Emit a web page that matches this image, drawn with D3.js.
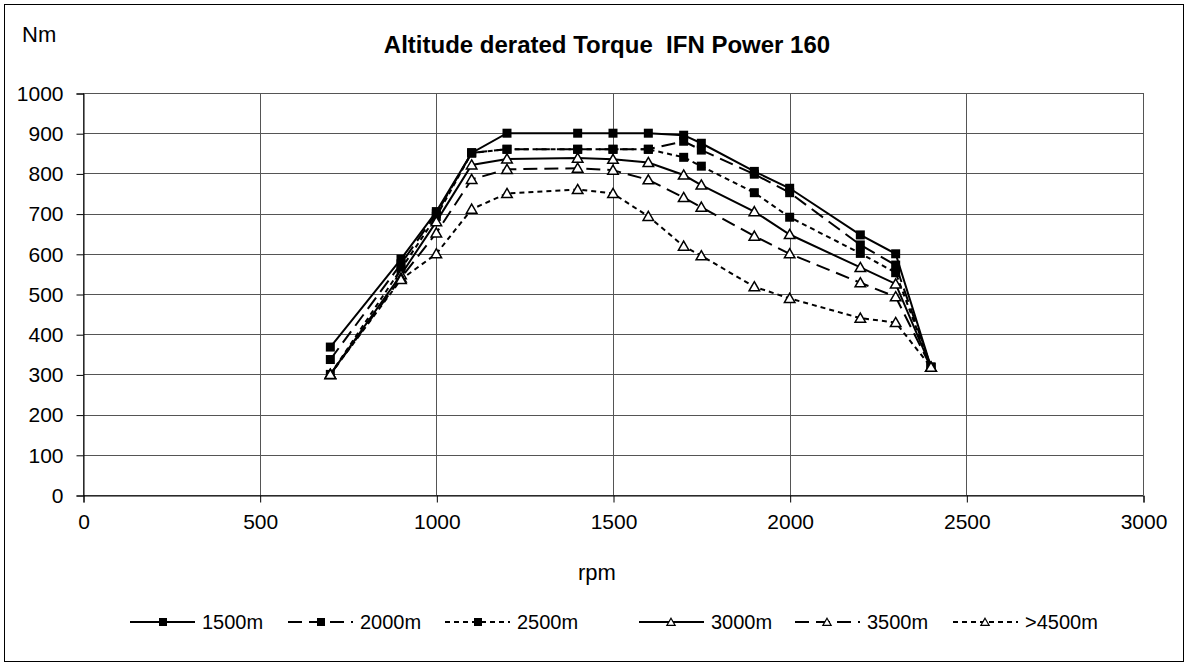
<!DOCTYPE html>
<html>
<head>
<meta charset="utf-8">
<script src="https://cdn.jsdelivr.net/npm/d3@7"></script>
<style>
  body { margin: 0; background: #fff; }
  svg { font-family: "Liberation Sans", Arial, sans-serif; }
</style>
</head>
<body>
<div id="chart"></div>
<script>
const rpm = [700, 900, 1000, 1100, 1200, 1400, 1500, 1600, 1700, 1750, 1900, 2000, 2200, 2300, 2400];

const t1500 = [368, 587, 705, 851, 900, 900, 900, 900, 895, 875, 805, 763, 647, 600, 318];
const t2000 = [337, 575, 700, 851, 860, 860, 860, 860, 880, 858, 798, 752, 622, 572, 318];
const t2500 = [300, 562, 693, 851, 860, 860, 860, 860, 840, 818, 752, 691, 601, 553, 318];
const t3000 = [300, 548, 680, 821, 836, 838, 835, 827, 796, 771, 705, 648, 566, 525, 318];
const t3500 = [300, 540, 652, 785, 810, 813, 808, 784, 740, 716, 644, 600, 528, 493, 318];
const t4500 = [300, 536, 600, 711, 750, 760, 750, 693, 619, 595, 518, 489, 440, 429, 318];

const seriesNames = ["1500m", "2000m", "2500m", "3000m", "3500m", ">4500m"];
const seriesValues = [t1500, t2000, t2500, t3000, t3500, t4500];
const dashes = [null, "14,7", "5,4", null, "14,7", "5,4"];
const markers = ["square", "square", "square", "triangle", "triangle", "triangle"];

const xTicks = [0, 500, 1000, 1500, 2000, 2500, 3000];
const yTicks = [0, 100, 200, 300, 400, 500, 600, 700, 800, 900, 1000];

const width = 1188, height = 666;
const margin = { top: 93, right: 45, bottom: 171, left: 83 };
const fontSize = 21;

const svg = d3.select("#chart").append("svg")
  .attr("width", width)
  .attr("height", height);

svg.append("rect")
  .attr("x", 4.5).attr("y", 4.5)
  .attr("width", width - 9).attr("height", height - 9)
  .attr("fill", "#fff")
  .attr("stroke", "#000");

const x = d3.scaleLinear().domain([0, 3000]).range([margin.left, width - margin.right]);
const y = d3.scaleLinear().domain([0, 1000]).range([height - margin.bottom, margin.top]);

// grid
svg.append("g")
  .selectAll("line")
  .data(yTicks)
  .join("line")
  .attr("x1", x(0)).attr("x2", x(3000))
  .attr("y1", d => Math.round(y(d)) + 0.5).attr("y2", d => Math.round(y(d)) + 0.5)
  .attr("stroke", "#555").attr("stroke-width", 1);

svg.append("g")
  .selectAll("line")
  .data(xTicks)
  .join("line")
  .attr("x1", d => Math.round(x(d)) + 0.5).attr("x2", d => Math.round(x(d)) + 0.5)
  .attr("y1", y(0)).attr("y2", y(1000))
  .attr("stroke", "#555").attr("stroke-width", 1);

// axes
const xAxis = svg.append("g")
  .attr("transform", `translate(0.5, ${Math.round(y(0)) + 0.5})`)
  .call(d3.axisBottom(x).tickValues(xTicks).tickSize(7).tickPadding(12).tickFormat(d3.format("d")));
const yAxis = svg.append("g")
  .attr("transform", `translate(${Math.round(x(0)) + 0.5}, 0.5)`)
  .call(d3.axisLeft(y).tickValues(yTicks).tickSize(7).tickPadding(13).tickFormat(d3.format("d")));

[xAxis, yAxis].forEach(a => {
  a.select(".domain").attr("stroke", "#000");
  a.selectAll(".tick line").attr("stroke", "#000");
  a.selectAll("text").attr("font-size", fontSize).attr("fill", "#000")
    .attr("font-family", "Liberation Sans, Arial, sans-serif");
});

// lines
const line = d3.line()
  .x((d, i) => x(rpm[i]))
  .y(d => y(d));

const triangle = d3.symbol().type(d3.symbolTriangle).size(48);

seriesValues.forEach((vals, s) => {
  svg.append("path")
    .datum(vals)
    .attr("fill", "none")
    .attr("stroke", "#000")
    .attr("stroke-width", 2)
    .attr("stroke-dasharray", dashes[s])
    .attr("d", line);
});

seriesValues.forEach((vals, s) => {
  const g = svg.append("g");
  if (markers[s] === "square") {
    g.selectAll("rect")
      .data(vals)
      .join("rect")
      .attr("x", (d, i) => x(rpm[i]) - 4.5)
      .attr("y", d => y(d) - 4.5)
      .attr("width", 9).attr("height", 9)
      .attr("fill", "#000");
  } else {
    g.selectAll("path")
      .data(vals)
      .join("path")
      .attr("transform", (d, i) => `translate(${x(rpm[i])}, ${y(d) + 1})`)
      .attr("d", triangle)
      .attr("fill", "#fff")
      .attr("stroke", "#000")
      .attr("stroke-width", 1.5);
  }
});

// texts
svg.append("text")
  .attr("x", 607).attr("y", 53)
  .attr("text-anchor", "middle")
  .attr("font-size", 24).attr("font-weight", "bold")
  .style("white-space", "pre")
  .text("Altitude derated Torque  IFN Power 160");

svg.append("text")
  .attr("x", 22).attr("y", 42)
  .attr("font-size", 22)
  .text("Nm");

svg.append("text")
  .attr("x", 597).attr("y", 580)
  .attr("text-anchor", "middle")
  .attr("font-size", 22)
  .text("rpm");

// legend
const legendX = [130, 288, 445, 639, 795, 953];
const legendY = 622;
seriesNames.forEach((name, s) => {
  const g = svg.append("g").attr("transform", `translate(${legendX[s]}, ${legendY})`);
  g.append("line")
    .attr("x1", 0).attr("x2", 65).attr("y1", 0).attr("y2", 0)
    .attr("stroke", "#000").attr("stroke-width", 2)
    .attr("stroke-dasharray", dashes[s]);
  if (markers[s] === "square") {
    g.append("rect").attr("x", 29).attr("y", -4).attr("width", 8).attr("height", 8).attr("fill", "#000");
  } else {
    g.append("path").attr("transform", "translate(32, 1)")
      .attr("d", d3.symbol().type(d3.symbolTriangle).size(30))
      .attr("fill", "#fff").attr("stroke", "#000").attr("stroke-width", 1.2);
  }
  g.append("text")
    .attr("x", 72).attr("y", 7)
    .attr("font-size", 20)
    .text(name);
});
</script>
</body>
</html>
